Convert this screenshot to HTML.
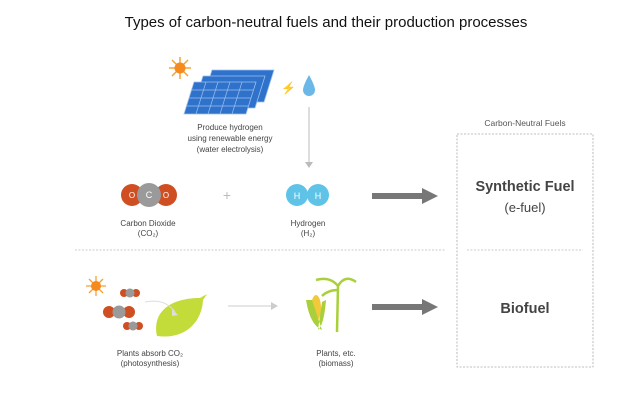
<!DOCTYPE html>
<html><head><meta charset="utf-8"><style>
body{margin:0;background:#fff}
svg{display:block}
text{font-family:"Liberation Sans",sans-serif}
</style></head><body>
<svg width="639" height="400" viewBox="0 0 639 400">
<text x="326" y="27" font-size="15" text-anchor="middle" fill="#111">Types of carbon-neutral fuels and their production processes</text>

<!-- sun top -->
<g transform="translate(180,68)" stroke="#f5a033" stroke-width="1.5">
<line x1="-11" y1="0" x2="11" y2="0"/><line x1="0" y1="-11" x2="0" y2="11"/>
<line x1="-8" y1="-8" x2="8" y2="8"/><line x1="-8" y1="8" x2="8" y2="-8"/>
<circle r="5.5" fill="#f58a1f" stroke="none"/></g>
<!-- solar panels -->
<g fill="#2f72cc" stroke="#9cc0ea" stroke-width="0.8">
<polygon points="212,70 274,70 264,102 202,102"/>
<polygon points="203,76 265,76 255,108 193,108"/>
<polygon points="194,82 256,82 246,114 184,114"/>
</g>
<g stroke="#9cc0ea" stroke-width="0.7">
<line x1="191" y1="90" x2="253" y2="90"/><line x1="189" y1="98" x2="251" y2="98"/><line x1="186" y1="106" x2="248" y2="106"/>
<line x1="206" y1="82" x2="196" y2="114"/><line x1="218" y1="82" x2="208" y2="114"/><line x1="230" y1="82" x2="220" y2="114"/><line x1="242" y1="82" x2="232" y2="114"/>
</g>
<text x="281" y="92" font-size="12" fill="#f0b020">⚡</text>
<path d="M309,75 Q303,86 303,90 A6,6 0 0 0 315,90 Q315,86 309,75Z" fill="#6bb8e8"/>
<text x="230" y="130" font-size="8" text-anchor="middle" fill="#444">Produce hydrogen</text>
<text x="230" y="141" font-size="8" text-anchor="middle" fill="#444">using renewable energy</text>
<text x="230" y="152" font-size="8" text-anchor="middle" fill="#444">(water electrolysis)</text>
<line x1="309" y1="107" x2="309" y2="162" stroke="#bbb" stroke-width="1"/>
<polygon points="305,162 313,162 309,168" fill="#bbb"/>

<!-- CO2 -->
<circle cx="132" cy="195" r="11" fill="#cf4f22"/><circle cx="166" cy="195" r="11" fill="#cf4f22"/>
<circle cx="149" cy="195" r="12" fill="#9a9a9a"/>
<text x="132" y="198" font-size="8" fill="#fff" text-anchor="middle">O</text>
<text x="149" y="198" font-size="9" fill="#fff" text-anchor="middle">C</text>
<text x="166" y="198" font-size="8" fill="#fff" text-anchor="middle">O</text>
<text x="148" y="226" font-size="8" text-anchor="middle" fill="#444">Carbon Dioxide</text>
<text x="148" y="236" font-size="8" text-anchor="middle" fill="#444">(CO₂)</text>
<text x="227" y="200" font-size="14" text-anchor="middle" fill="#bbb">+</text>
<circle cx="297" cy="195" r="11" fill="#5fc3e8"/><circle cx="318" cy="195" r="11" fill="#5fc3e8"/>
<text x="297" y="199" font-size="9" fill="#fff" text-anchor="middle">H</text>
<text x="318" y="199" font-size="9" fill="#fff" text-anchor="middle">H</text>
<text x="308" y="226" font-size="8" text-anchor="middle" fill="#444">Hydrogen</text>
<text x="308" y="236" font-size="8" text-anchor="middle" fill="#444">(H₂)</text>

<!-- arrows big -->
<rect x="372" y="193" width="52" height="6" fill="#777"/><polygon points="422,188 438,196 422,204" fill="#777"/>
<rect x="372" y="304" width="52" height="6" fill="#777"/><polygon points="422,299 438,307 422,315" fill="#777"/>

<!-- dashed lines -->
<line x1="75" y1="250" x2="445" y2="250" stroke="#bbb" stroke-dasharray="2,1.5" stroke-width="0.8"/>
<line x1="467" y1="250" x2="583" y2="250" stroke="#bbb" stroke-dasharray="2,1.5" stroke-width="0.8"/>
<rect x="457" y="134" width="136" height="233" fill="none" stroke="#aaa" stroke-dasharray="2,1.5" stroke-width="0.8"/>
<text x="525" y="126" font-size="8.5" text-anchor="middle" fill="#555">Carbon-Neutral Fuels</text>
<text x="525" y="191" font-size="14.5" font-weight="bold" text-anchor="middle" fill="#444">Synthetic Fuel</text>
<text x="525" y="212" font-size="13" text-anchor="middle" fill="#444">(e-fuel)</text>
<text x="525" y="313" font-size="14.5" font-weight="bold" text-anchor="middle" fill="#444">Biofuel</text>

<!-- sun lower -->
<g transform="translate(96,286)" stroke="#f5a033" stroke-width="1.3">
<line x1="-10" y1="0" x2="10" y2="0"/><line x1="0" y1="-10" x2="0" y2="10"/>
<line x1="-7" y1="-7" x2="7" y2="7"/><line x1="-7" y1="7" x2="7" y2="-7"/>
<circle r="5" fill="#f58a1f" stroke="none"/></g>
<!-- small molecules -->
<g><circle cx="124" cy="293" r="4" fill="#cf4f22"/><circle cx="136" cy="293" r="4" fill="#cf4f22"/><circle cx="130" cy="293" r="4.5" fill="#9a9a9a"/></g>
<g><circle cx="109" cy="312" r="6" fill="#cf4f22"/><circle cx="129" cy="312" r="6" fill="#cf4f22"/><circle cx="119" cy="312" r="6.5" fill="#9a9a9a"/></g>
<g><circle cx="127" cy="326" r="4" fill="#cf4f22"/><circle cx="139" cy="326" r="4" fill="#cf4f22"/><circle cx="133" cy="326" r="4.5" fill="#9a9a9a"/></g>
<!-- leaf -->
<path d="M157,336 C152,312 170,298 200,298 L207,294 L203,300 C202,322 185,340 157,336Z" fill="#c4dc3a"/>
<path d="M145,302 Q165,298 175,312" fill="none" stroke="#ddd" stroke-width="1"/>
<polygon points="172,309 178,315 172,316" fill="#ddd"/>
<text x="150" y="356" font-size="8" text-anchor="middle" fill="#444">Plants absorb CO₂</text>
<text x="150" y="366" font-size="8" text-anchor="middle" fill="#444">(photosynthesis)</text>
<!-- thin arrow -->
<line x1="228" y1="306" x2="272" y2="306" stroke="#ccc" stroke-width="1"/>
<polygon points="271,302 278,306 271,310" fill="#ccc"/>
<!-- plants -->
<path d="M337,332 L338,286 M338,286 Q330,276 316,280 M338,286 Q345,274 356,282 M338,290 Q328,290 322,296" stroke="#a9d03a" stroke-width="2.5" fill="none"/>
<ellipse cx="316" cy="308" rx="5" ry="13" fill="#f2c93a"/>
<path d="M306,300 Q310,325 322,330 Q316,312 312,300Z M326,300 Q324,325 318,330 Q320,315 322,302Z" fill="#a9d03a"/>
<text x="336" y="356" font-size="8" text-anchor="middle" fill="#444">Plants, etc.</text>
<text x="336" y="366" font-size="8" text-anchor="middle" fill="#444">(biomass)</text>
</svg>
</body></html>
